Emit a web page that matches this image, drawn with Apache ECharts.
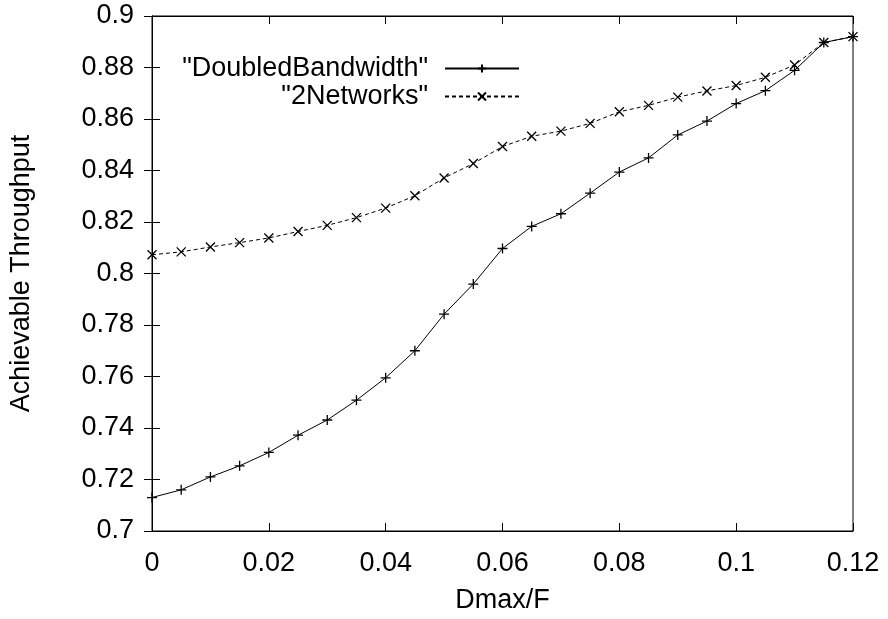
<!DOCTYPE html>
<html>
<head>
<meta charset="utf-8">
<script src="https://cdn.jsdelivr.net/npm/echarts@6/dist/echarts.min.js"></script>
<style>
  html, body { margin: 0; padding: 0; background: #fff; }
  #chart { width: 888px; height: 619px; }
</style>
</head>
<body>
<div id="chart"></div>
<script>
// Dmax/F values (x)
const dmaxF = [0, 0.005, 0.01, 0.015, 0.02, 0.025, 0.03, 0.035, 0.04, 0.045, 0.05, 0.055,
  0.06, 0.065, 0.07, 0.075, 0.08, 0.085, 0.09, 0.095, 0.1, 0.105, 0.11, 0.115, 0.12]

// achievable throughput
const doubledBandwidth = [0.713, 0.716, 0.721, 0.7253, 0.7305, 0.7372, 0.7431, 0.7508, 0.7595,
  0.770, 0.7842, 0.7959, 0.8097, 0.8183, 0.8232, 0.8312, 0.8394, 0.8449, 0.8538, 0.8592,
  0.866, 0.871, 0.8789, 0.8897, 0.892]
const twoNetworks = [0.8073, 0.8084, 0.8103, 0.812, 0.8138, 0.8163, 0.8187, 0.8217, 0.8254,
  0.8302, 0.8371, 0.8427, 0.8493, 0.8533, 0.8553, 0.8583, 0.8628, 0.8653, 0.8685, 0.8709,
  0.873, 0.8762, 0.881, 0.8897, 0.892]

const seriesNames = ['"DoubledBandwidth"', '"2Networks"']

const FONT = 'Liberation Sans'
const FS = 27
const plusPath = 'path://M0,5L10,5M5,0L5,10'
const crossPath = 'path://M0,0L10,10M10,0L0,10'

const fmt = v => String(parseFloat(v.toFixed(3)))

const pairs = ys => dmaxF.map((x, i) => [x, ys[i]])

const chart = echarts.init(document.getElementById('chart'), null, { renderer: 'canvas' })

const legendBase = {
  orient: 'vertical',
  right: 363,
  align: 'right',
  itemWidth: 74,
  itemHeight: 10,
  itemGap: 0,
  selectedMode: false,
  textStyle: { fontFamily: FONT, fontSize: FS, color: '#000', padding: [0, 12, 0, 0] }
}

// mirrored axes (top / right) only carry inward ticks, like gnuplot
const mirror = {
  axisLine: { show: true, lineStyle: { color: '#000' } },
  axisTick: { show: true, inside: true, length: 8, lineStyle: { color: '#000' } },
  axisLabel: { show: false },
  splitLine: { show: false }
}

chart.setOption({
  animation: false,
  backgroundColor: '#fff',
  grid: {
    left: 152, right: 35, top: 16, bottom: 85,
    show: true, borderColor: '#000', borderWidth: 1
  },
  legend: [
    { ...legendBase, top: 50, data: [seriesNames[0]] },
    { ...legendBase, top: 78, data: [seriesNames[1]] }
  ],
  xAxis: [
    {
      type: 'value', min: 0, max: 0.12, interval: 0.02,
      name: 'Dmax/F', nameLocation: 'middle', nameGap: 56,
      nameTextStyle: { fontFamily: FONT, fontSize: FS, color: '#000' },
      axisLine: { lineStyle: { color: '#000' } },
      axisTick: { inside: true, length: 8, lineStyle: { color: '#000' } },
      axisLabel: { fontFamily: FONT, fontSize: FS, color: '#000', margin: 19, formatter: fmt },
      splitLine: { show: false }
    },
    { type: 'value', min: 0, max: 0.12, interval: 0.02, position: 'top', ...mirror }
  ],
  yAxis: [
    {
      type: 'value', min: 0.7, max: 0.9, interval: 0.02,
      name: 'Achievable Throughput', nameLocation: 'middle', nameGap: 117,
      nameTextStyle: { fontFamily: FONT, fontSize: FS, color: '#000' },
      axisLine: { show: true, lineStyle: { color: '#000' } },
      axisTick: { show: true, inside: true, length: 8, lineStyle: { color: '#000' } },
      axisLabel: { fontFamily: FONT, fontSize: FS, color: '#000', margin: 18, formatter: fmt },
      splitLine: { show: false }
    },
    { type: 'value', min: 0.7, max: 0.9, interval: 0.02, position: 'right', ...mirror }
  ],
  series: [
    {
      name: seriesNames[0],
      type: 'line',
      data: pairs(doubledBandwidth),
      symbol: plusPath,
      symbolSize: 10,
      showAllSymbol: true,
      itemStyle: { color: 'transparent', borderColor: '#000', borderWidth: 1.3 },
      lineStyle: { color: '#000', width: 1, type: 'solid' }
    },
    {
      name: seriesNames[1],
      type: 'line',
      data: pairs(twoNetworks),
      symbol: crossPath,
      symbolSize: 9,
      showAllSymbol: true,
      itemStyle: { color: 'transparent', borderColor: '#000', borderWidth: 1.3 },
      lineStyle: { color: '#000', width: 1, type: [4, 3] }
    }
  ]
})
</script>
</body>
</html>
